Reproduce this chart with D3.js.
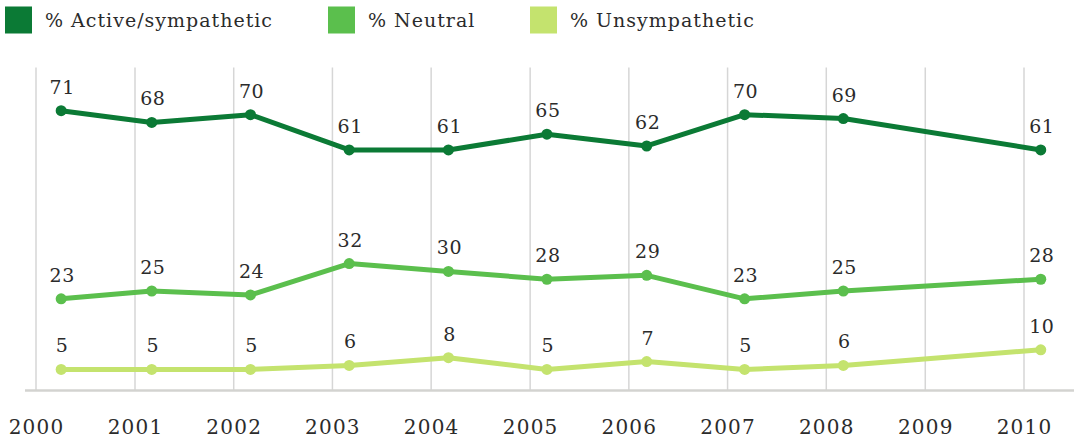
<!DOCTYPE html>
<html>
<head>
<meta charset="utf-8">
<script src="https://cdn.jsdelivr.net/npm/d3@7"></script>
<style>
  html, body { margin: 0; padding: 0; background: #fff; }
  svg { display: block; }
  text { font-family: "DejaVu Serif", "Liberation Serif", serif; fill: #2b2b2b; }
</style>
</head>
<body>
<svg id="chart" width="1074" height="444"></svg>
<script>
// Survey dates (one poll per year, none in 2009)
const pollDates = ["2000-04-03", "2001-03-04", "2002-03-04", "2003-03-04", "2004-03-05",
                   "2005-03-04", "2006-03-08", "2007-03-05", "2008-03-04", "2010-03-04"];
const activeSympathetic = [71, 68, 70, 61, 61, 65, 62, 70, 69, 61];
const neutral           = [23, 25, 24, 32, 30, 28, 29, 23, 25, 28];
const unsympathetic     = [5, 5, 5, 6, 8, 5, 7, 5, 6, 10];
const yearTicks = [2000, 2001, 2002, 2003, 2004, 2005, 2006, 2007, 2008, 2009, 2010];
const seriesNames = ["% Active/sympathetic", "% Neutral", "% Unsympathetic"];
const seriesColors = ["#0b7a35", "#5bbf4d", "#c4e36e"];

const parse = d3.timeParse("%Y-%m-%d");
const dates = pollDates.map(parse);
const series = [activeSympathetic, neutral, unsympathetic].map((vals, i) => ({
  name: seriesNames[i],
  color: seriesColors[i],
  points: vals.map((v, j) => ({ date: dates[j], value: v }))
}));

const svg = d3.select("#chart");

const x = d3.scaleTime()
  .domain([new Date(2000, 0, 1), new Date(2010, 0, 1)])
  .range([36, 1024]);
const y = d3.scaleLinear().domain([0, 82]).range([389, 67.6]);

// vertical year gridlines
svg.append("g")
  .selectAll("line")
  .data(yearTicks)
  .join("line")
  .attr("x1", d => x(new Date(d, 0, 1)))
  .attr("x2", d => x(new Date(d, 0, 1)))
  .attr("y1", y.range()[1])
  .attr("y2", 390)
  .attr("stroke", "#d6d6d6")
  .attr("stroke-width", 1.5);

// baseline
svg.append("line")
  .attr("x1", 25).attr("x2", 1074)
  .attr("y1", 390.5).attr("y2", 390.5)
  .attr("stroke", "#d3d3d0")
  .attr("stroke-width", 2.4);

// year labels
const xAxis = d3.axisBottom(x)
  .tickValues(yearTicks.map(yr => new Date(yr, 0, 1)))
  .tickFormat(d3.timeFormat("%Y"))
  .tickSize(0)
  .tickPadding(0);
const axisG = svg.append("g").attr("transform", "translate(0,434)").call(xAxis);
axisG.select(".domain").remove();
axisG.selectAll("text")
  .attr("dy", 0)
  .attr("y", 0)
  .style("font-family", "'DejaVu Serif', serif")
  .style("font-size", "20px")
  .style("letter-spacing", "1.2px")
  .style("fill", "#2b2b2b");

// lines, dots and value labels
const line = d3.line().x(d => x(d.date)).y(d => y(d.value));
const g = svg.append("g");
series.forEach(s => {
  g.append("path")
    .datum(s.points)
    .attr("d", line)
    .attr("fill", "none")
    .attr("stroke", s.color)
    .attr("stroke-width", 5)
    .attr("stroke-linejoin", "round");
  g.selectAll(null)
    .data(s.points)
    .join("circle")
    .attr("cx", d => x(d.date))
    .attr("cy", d => y(d.value))
    .attr("r", 5.5)
    .attr("fill", s.color);
  g.selectAll(null)
    .data(s.points)
    .join("text")
    .attr("x", d => x(d.date) + 1)
    .attr("y", d => y(d.value) - 17)
    .attr("text-anchor", "middle")
    .style("font-size", "19px")
    .style("letter-spacing", "0.5px")
    .text(d => d.value);
});

// legend
const legendX = [5, 328, 530];
const legend = svg.append("g");
series.forEach((s, i) => {
  legend.append("rect")
    .attr("x", legendX[i]).attr("y", 6.5)
    .attr("width", 27).attr("height", 27)
    .attr("fill", s.color);
  legend.append("text")
    .attr("x", legendX[i] + 40).attr("y", 27)
    .style("font-size", "19px")
    .style("letter-spacing", "1px")
    .text(s.name);
});
</script>
</body>
</html>
